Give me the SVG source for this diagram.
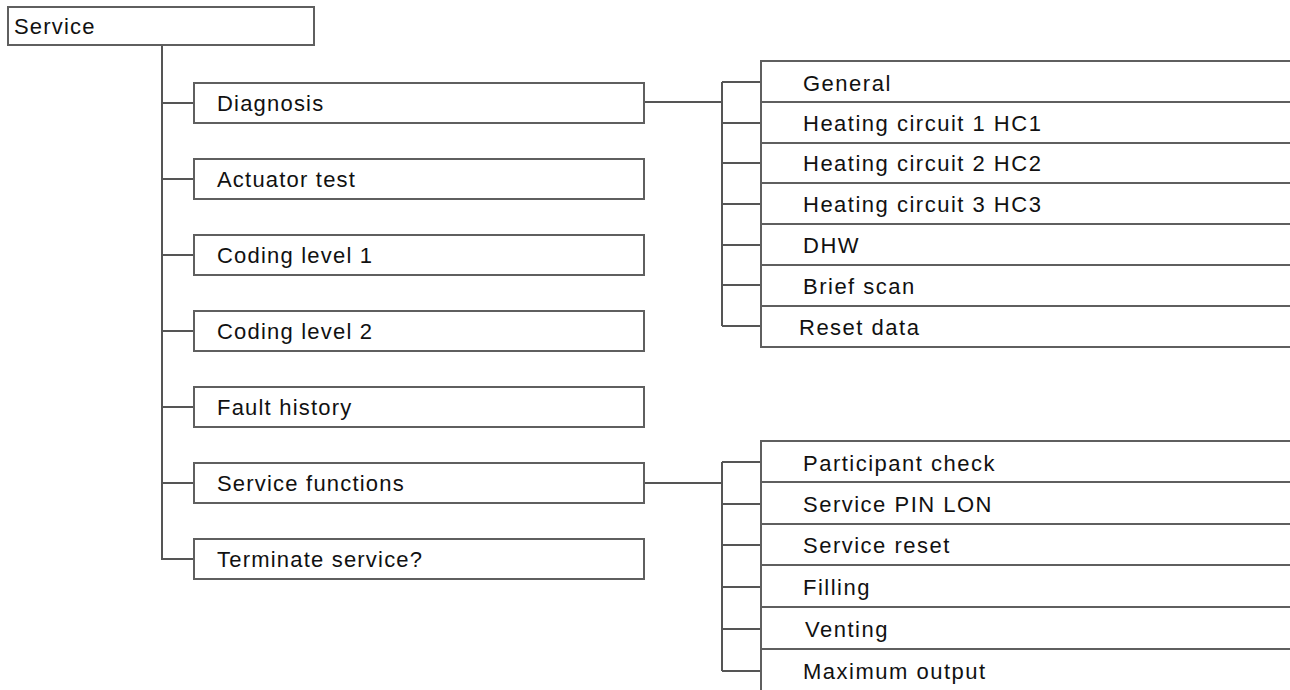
<svg xmlns="http://www.w3.org/2000/svg" width="1290" height="690" viewBox="0 0 1290 690">
<style>
.box{fill:#fff;stroke:#5f5f5f;stroke-width:2}
.sub{fill:#fff;stroke:#5f5f5f;stroke-width:2}
.lbl{font-family:"Liberation Sans",Arial,sans-serif;font-size:22px;letter-spacing:1.2px;fill:#111}
.sl{letter-spacing:1.5px}
.con{fill:none;stroke:#555;stroke-width:2}
</style>
<rect width="1290" height="690" fill="#fff"/>
<g id="connectors">
<path class="con" d="M162 45 V559 H194"/>
<path class="con" d="M162 103 H194 M162 179 H194 M162 255 H194 M162 331 H194 M162 407 H194 M162 483 H194"/>
<path class="con" d="M644 102 H722 M722 82 V326 M722 82 H761 M722 123 H761 M722 163 H761 M722 204 H761 M722 245 H761 M722 285 H761 M722 326 H761"/>
<path class="con" d="M644 483 H722 M722 462 V671 M722 462 H761 M722 504 H761 M722 545 H761 M722 587 H761 M722 629 H761 M722 671 H761"/>
</g>
<g id="service"><rect class="box" x="8" y="7" width="306" height="38"/><text class="lbl" x="14" y="34">Service</text></g>
<g id="diagnosis"><rect class="box" x="194" y="83" width="450" height="40"/><text class="lbl" x="217" y="111">Diagnosis</text></g>
<g id="actuator-test"><rect class="box" x="194" y="159" width="450" height="40"/><text class="lbl" x="217" y="187">Actuator test</text></g>
<g id="coding-level-1"><rect class="box" x="194" y="235" width="450" height="40"/><text class="lbl" x="217" y="263">Coding level 1</text></g>
<g id="coding-level-2"><rect class="box" x="194" y="311" width="450" height="40"/><text class="lbl" x="217" y="339">Coding level 2</text></g>
<g id="fault-history"><rect class="box" x="194" y="387" width="450" height="40"/><text class="lbl" x="217" y="415">Fault history</text></g>
<g id="service-functions"><rect class="box" x="194" y="463" width="450" height="40"/><text class="lbl" x="217" y="491">Service functions</text></g>
<g id="terminate-service"><rect class="box" x="194" y="539" width="450" height="40"/><text class="lbl" x="217" y="567">Terminate service?</text></g>
<g id="general"><rect class="sub" x="761" y="61" width="600" height="41"/><text class="lbl sl" x="803" y="91">General</text></g>
<g id="hc1"><rect class="sub" x="761" y="102" width="600" height="41"/><text class="lbl sl" x="803" y="131">Heating circuit 1 HC1</text></g>
<g id="hc2"><rect class="sub" x="761" y="143" width="600" height="40"/><text class="lbl sl" x="803" y="171">Heating circuit 2 HC2</text></g>
<g id="hc3"><rect class="sub" x="761" y="183" width="600" height="41"/><text class="lbl sl" x="803" y="212">Heating circuit 3 HC3</text></g>
<g id="dhw"><rect class="sub" x="761" y="224" width="600" height="41"/><text class="lbl sl" x="803" y="253">DHW</text></g>
<g id="brief-scan"><rect class="sub" x="761" y="265" width="600" height="41"/><text class="lbl sl" x="803" y="294">Brief scan</text></g>
<g id="reset-data"><rect class="sub" x="761" y="306" width="600" height="41"/><text class="lbl sl" x="799" y="335">Reset data</text></g>
<g id="participant-check"><rect class="sub" x="761" y="441" width="600" height="41"/><text class="lbl sl" x="803" y="471">Participant check</text></g>
<g id="service-pin-lon"><rect class="sub" x="761" y="482" width="600" height="42"/><text class="lbl sl" x="803" y="512">Service PIN LON</text></g>
<g id="service-reset"><rect class="sub" x="761" y="524" width="600" height="41"/><text class="lbl sl" x="803" y="553">Service reset</text></g>
<g id="filling"><rect class="sub" x="761" y="565" width="600" height="42"/><text class="lbl sl" x="803" y="595">Filling</text></g>
<g id="venting"><rect class="sub" x="761" y="607" width="600" height="42"/><text class="lbl sl" x="805" y="637">Venting</text></g>
<g id="maximum-output"><rect class="sub" x="761" y="649" width="600" height="60"/><text class="lbl sl" x="803" y="679">Maximum output</text></g>
</svg>
